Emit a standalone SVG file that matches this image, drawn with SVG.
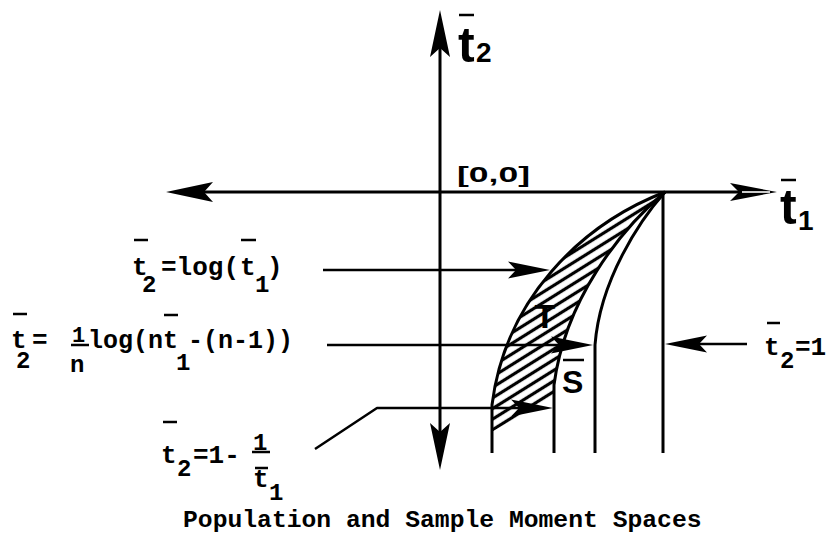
<svg xmlns="http://www.w3.org/2000/svg" width="826" height="539" viewBox="0 0 826 539">
<style>
.ln{fill:none;stroke:#000;stroke-width:3;stroke-linecap:butt;stroke-linejoin:round}
.ar{fill:none;stroke:#000;stroke-width:2.5;stroke-linejoin:round}
.bar{stroke:#000;stroke-width:2.5}
.mono{font-family:"Liberation Mono","DejaVu Sans Mono",monospace;fill:#000;font-weight:bold}
.sans{font-family:"Liberation Sans",Arial,sans-serif;fill:#000}
.bold{font-weight:bold}
</style>
<defs>
<marker id="axh" markerUnits="userSpaceOnUse" viewBox="0 -11 48 22" markerWidth="48" markerHeight="22" refX="9" refY="0" orient="auto-start-reverse">
<path d="M47,0 L0,-10 L9,0 L0,10 Z" fill="#000"/>
</marker>
<marker id="axo" markerUnits="userSpaceOnUse" viewBox="0 -11 48 22" markerWidth="48" markerHeight="22" refX="9" refY="0" orient="auto">
<path d="M47,0 L0,-9 L9,0 L0,9 Z" fill="#000"/>
<path d="M12,0 L40,0" stroke="#fff" stroke-width="1.6"/>
</marker>
<marker id="ah" markerUnits="userSpaceOnUse" viewBox="0 -10 44 20" markerWidth="44" markerHeight="20" refX="8" refY="0" orient="auto">
<path d="M42,0 L0,-8.5 L8,0 L0,8.5 Z" fill="#000"/>
</marker>
<pattern id="hatch" patternUnits="userSpaceOnUse" width="10" height="9" patternTransform="rotate(-32)">
<line x1="0" y1="4.5" x2="10" y2="4.5" stroke="#000" stroke-width="3.2"/>
</pattern>
</defs>

<g id="region-T">
<path d="M665,192 C580,225 505,300 492,405 L492,432 L554,396 L554,385 C565,300 620,230 665,192 Z" fill="url(#hatch)"/>
<text class="sans bold" x="545" y="328" font-size="34" text-anchor="middle">T</text>
</g>

<g id="curves">
<path class="ln" d="M665,192 C580,225 505,300 492,405 L492,453"/>
<path class="ln" d="M665,192 C620,230 565,300 554,385 L554,453"/>
<path class="ln" d="M665,192 C640,220 600,280 595,345 L595,453"/>
<path class="ln" d="M663,192 L663,453"/>
</g>

<g id="axes">
<line class="ln" x1="440" y1="48" x2="440" y2="432" marker-start="url(#axh)" marker-end="url(#axh)"/>
<line class="ln" x1="204" y1="192" x2="739" y2="192" marker-start="url(#axh)" marker-end="url(#axo)"/>
</g>

<g id="connectors">
<line class="ar" x1="323" y1="270" x2="516" y2="270" marker-end="url(#ah)"/>
<line class="ar" x1="327" y1="345" x2="559" y2="345" marker-end="url(#ah)"/>
<polyline class="ar" points="315,449 377,408 519,408" marker-end="url(#ah)"/>
<line class="ar" x1="747" y1="344" x2="699" y2="344" marker-end="url(#ah)"/>
</g>

<g id="label-t2-axis">
<line class="bar" x1="459" y1="15" x2="474" y2="15" stroke-width="3"/>
<text class="sans bold" x="458" y="62" font-size="50">t</text>
<text class="sans bold" x="476" y="62" font-size="28">2</text>
</g>

<g id="label-t1-axis">
<line class="bar" x1="781" y1="180" x2="796" y2="180" stroke-width="3"/>
<text class="sans bold" x="780" y="224" font-size="50">t</text>
<text class="sans bold" x="798" y="230" font-size="28">1</text>
</g>

<g id="label-origin">
<text class="sans bold" x="457" y="182" font-size="22" textLength="73" lengthAdjust="spacingAndGlyphs">[0,0]</text>
</g>

<g id="label-S">
<line class="bar" x1="563" y1="360" x2="584" y2="360" stroke-width="3"/>
<text class="sans bold" x="562" y="393" font-size="32">S</text>
</g>

<g id="label-log">
<line class="bar" x1="134" y1="240" x2="148" y2="240"/>
<text class="mono" x="132" y="275" font-size="26">t</text>
<text class="mono" x="142" y="292" font-size="24">2</text>
<text class="mono" x="161" y="275" font-size="26">=log(</text>
<line class="bar" x1="241" y1="240" x2="256" y2="240"/>
<text class="mono" x="240" y="275" font-size="26">t</text>
<text class="mono" x="255" y="292" font-size="24">1</text>
<text class="mono" x="267" y="275" font-size="26">)</text>
</g>

<g id="label-nlog">
<line class="bar" x1="13" y1="314" x2="27" y2="314"/>
<text class="mono" x="11" y="348" font-size="26">t</text>
<text class="mono" x="16" y="368" font-size="24">2</text>
<text class="mono" x="32" y="348" font-size="26">=</text>
<text class="mono" x="72" y="342" font-size="22">1</text>
<line class="bar" x1="71" y1="345" x2="89" y2="345"/>
<text class="mono" x="70" y="372" font-size="24">n</text>
<text class="mono" x="88" y="348" font-size="25">log(n</text>
<line class="bar" x1="164" y1="315" x2="178" y2="315"/>
<text class="mono" x="163" y="348" font-size="25">t</text>
<text class="mono" x="176" y="370" font-size="24">1</text>
<text class="mono" x="188" y="348" font-size="25">-(n-1))</text>
</g>

<g id="label-inv">
<line class="bar" x1="163" y1="422" x2="177" y2="422"/>
<text class="mono" x="161" y="463" font-size="26">t</text>
<text class="mono" x="177" y="476" font-size="24">2</text>
<text class="mono" x="193" y="463" font-size="26">=1-</text>
<text class="mono" x="253" y="450" font-size="24">1</text>
<line class="bar" x1="252" y1="452" x2="270" y2="452"/>
<line class="bar" x1="255" y1="468" x2="268" y2="468"/>
<text class="mono" x="253" y="487" font-size="26">t</text>
<text class="mono" x="269" y="500" font-size="24">1</text>
</g>

<g id="label-one">
<line class="bar" x1="767" y1="323" x2="780" y2="323"/>
<text class="mono" x="764" y="355" font-size="26">t</text>
<text class="mono" x="780" y="368" font-size="24">2</text>
<text class="mono" x="795" y="355" font-size="26">=1</text>
</g>

<g id="caption">
<text class="mono" x="183" y="527" font-size="24.7">Population and Sample Moment Spaces</text>
</g>
</svg>
